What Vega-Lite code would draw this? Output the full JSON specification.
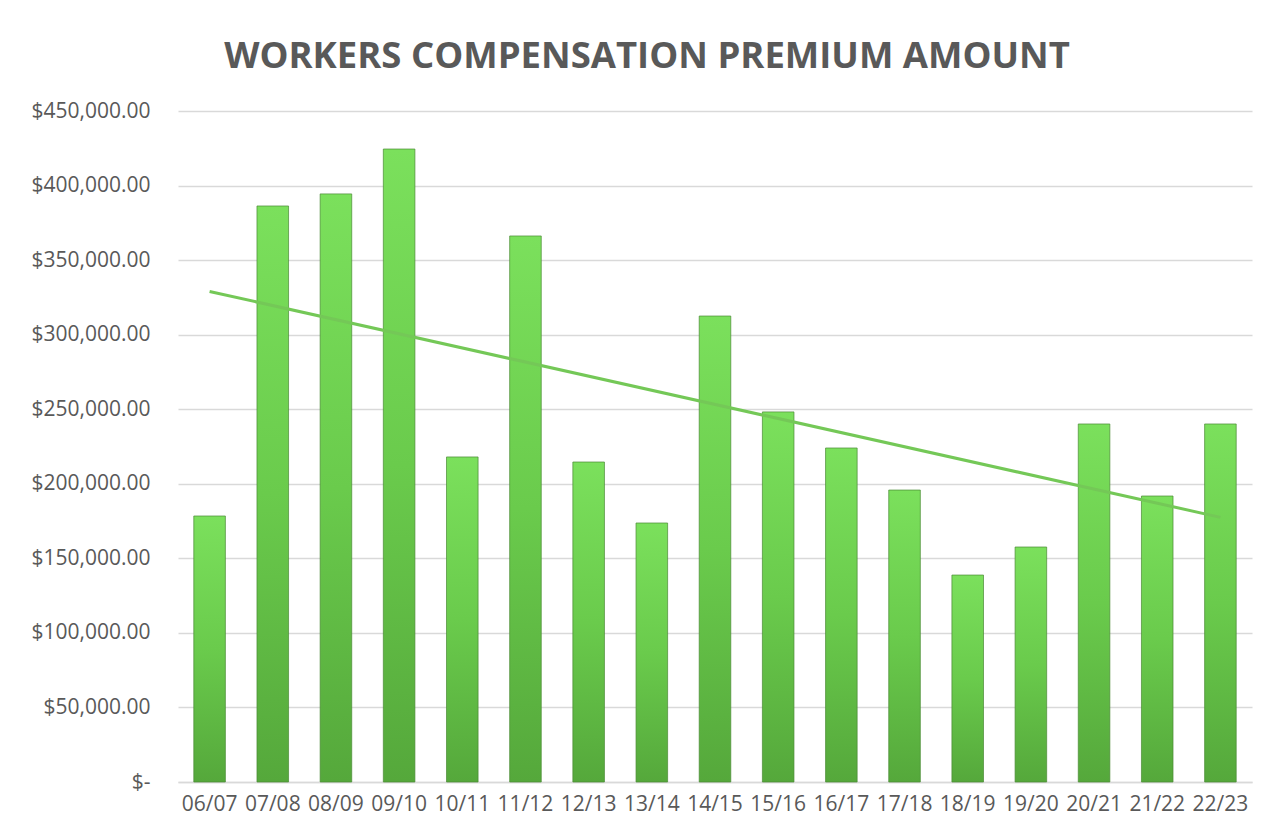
{
  "$schema": "https://vega.github.io/schema/vega-lite/v6.json",
  "width": 1074,
  "height": 671,
  "autosize": "none",
  "padding": {"left": 178, "top": 111, "right": 24, "bottom": 57},
  "background": "white",
  "title": {
    "text": "WORKERS COMPENSATION PREMIUM AMOUNT",
    "font": "Open Sans",
    "fontSize": 36.5,
    "fontWeight": "bold",
    "color": "#595959",
    "anchor": "middle",
    "dx": -68,
    "offset": 25
  },
  "datasets": {
    "premiums": [
      {"period": "06/07", "i": 1, "amount": 178400},
      {"period": "07/08", "i": 2, "amount": 386300},
      {"period": "08/09", "i": 3, "amount": 394400},
      {"period": "09/10", "i": 4, "amount": 424500},
      {"period": "10/11", "i": 5, "amount": 218000},
      {"period": "11/12", "i": 6, "amount": 366200},
      {"period": "12/13", "i": 7, "amount": 214600},
      {"period": "13/14", "i": 8, "amount": 173700},
      {"period": "14/15", "i": 9, "amount": 312500},
      {"period": "15/16", "i": 10, "amount": 248200},
      {"period": "16/17", "i": 11, "amount": 224000},
      {"period": "17/18", "i": 12, "amount": 195800},
      {"period": "18/19", "i": 13, "amount": 138800},
      {"period": "19/20", "i": 14, "amount": 157600},
      {"period": "20/21", "i": 15, "amount": 240100},
      {"period": "21/22", "i": 16, "amount": 191800},
      {"period": "22/23", "i": 17, "amount": 240100}
    ]
  },
  "data": {"name": "premiums"},
  "config": {
    "view": {"stroke": null},
    "axis": {
      "labelFont": "Open Sans",
      "labelColor": "#595959",
      "labelFontSize": 21,
      "labelOverlap": false,
      "titleFont": "Open Sans"
    }
  },
  "layer": [
    {
      "mark": {
        "type": "bar",
        "stroke": "#4a8a35",
        "strokeWidth": 1,
        "strokeOpacity": 0.7,
        "color": {
          "gradient": "linear",
          "x1": 0, "y1": 0, "x2": 0, "y2": 1,
          "stops": [
            {"offset": 0, "color": "#7be05c"},
            {"offset": 0.5, "color": "#6acb4c"},
            {"offset": 1, "color": "#55a83b"}
          ]
        }
      },
      "encoding": {
        "x": {
          "field": "period",
          "type": "nominal",
          "sort": null,
          "scale": {"paddingInner": 0.5, "paddingOuter": 0.25},
          "axis": {
            "title": null,
            "labelAngle": 0,
            "ticks": false,
            "domain": true,
            "domainColor": "#d9d9d9",
            "domainWidth": 1.5,
            "labelPadding": 11
          }
        },
        "y": {
          "field": "amount",
          "type": "quantitative",
          "scale": {"domain": [0, 450000]},
          "axis": {
            "title": null,
            "values": [0, 50000, 100000, 150000, 200000, 250000, 300000, 350000, 400000, 450000],
            "ticks": false,
            "domain": false,
            "grid": true,
            "gridColor": "#d9d9d9",
            "gridWidth": 1.5,
            "labelPadding": 28,
            "labelExpr": "datum.value == 0 ? '$-\u00a0\u00a0\u00a0' : format(datum.value, '$,.2f')"
          }
        }
      }
    },
    {
      "transform": [
        {"regression": "amount", "on": "i"},
        {"lookup": "i", "from": {"data": {"name": "premiums"}, "key": "i", "fields": ["period"]}}
      ],
      "mark": {"type": "line", "color": "#74c857", "strokeWidth": 3},
      "encoding": {
        "x": {"field": "period", "type": "nominal", "sort": null},
        "y": {"field": "amount", "type": "quantitative"}
      }
    }
  ]
}
